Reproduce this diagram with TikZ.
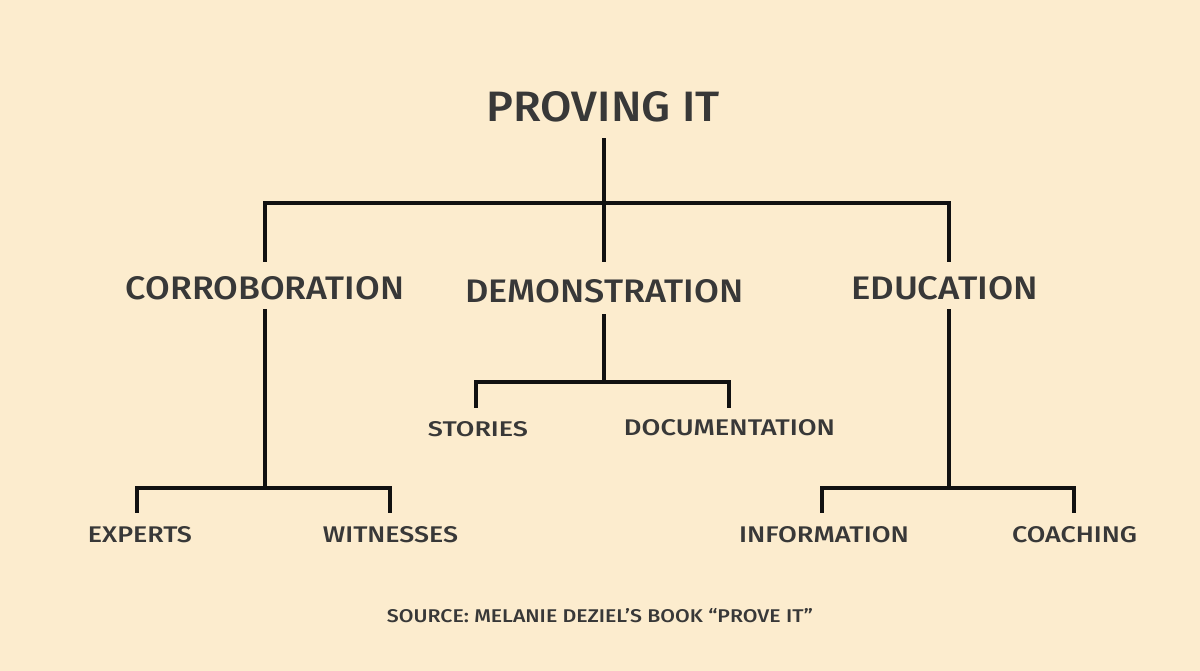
\documentclass[tikz,border=0pt]{standalone}
\usepackage{fontspec}
\usepackage{graphicx}
\setmainfont{Fira Sans}[UprightFont=* Medium]
\definecolor{bgcream}{HTML}{FCECCE}
\definecolor{inkgray}{HTML}{383838}
\definecolor{linedark}{HTML}{111111}
\newcommand{\fitt}[3]{\resizebox{#1pt}{#2pt}{#3}}
\tikzset{
  lbl/.style={inner sep=0pt, outer sep=0pt, text=inkgray},
  conn/.style={draw=linedark, line width=3.2pt, line cap=butt, line join=miter}
}
\begin{document}
\begin{tikzpicture}[x=1pt,y=1pt]
\fill[bgcream] (0,0) rectangle (1200,671);
\useasboundingbox (0,0) rectangle (1200,671);
% nodes
\node[lbl] (title) at (603,564) {\fitt{233}{30}{PROVING IT}};
\node[lbl] (corr) at (265,382.5) {\fitt{278}{23}{CORROBORATION}};
\node[lbl] (demo) at (604.5,379.5) {\fitt{278}{23}{DEMONSTRATION}};
\node[lbl] (edu) at (944.5,382.5) {\fitt{187}{23}{EDUCATION}};
\node[lbl] (experts) at (140,136) {\fitt{104}{16}{EXPERTS}};
\node[lbl] (witnesses) at (390.5,136) {\fitt{135}{16}{WITNESSES}};
\node[lbl] (stories) at (478,241.5) {\fitt{100}{15}{STORIES}};
\node[lbl] (documentation) at (729.5,243) {\fitt{211}{16}{DOCUMENTATION}};
\node[lbl] (information) at (824,136) {\fitt{170}{16}{INFORMATION}};
\node[lbl] (coaching) at (1074.5,136) {\fitt{125}{16}{COACHING}};
\node[lbl] (source) at (600,55) {\fitt{426}{14}{SOURCE: MELANIE DEZIEL’S BOOK “PROVE IT”}};
% junctions
\coordinate (j0) at (604,468);
\coordinate (j1) at (265,183);
\coordinate (j2) at (604,289);
\coordinate (j3) at (949,183);
% connectors
\draw[conn] ([xshift=1pt,yshift=-16pt]title.south) -- (j0);
\draw[conn] ([yshift=15pt]corr.north) |- (j0);
\draw[conn] (j0) -| ([xshift=4.5pt,yshift=15pt]edu.north);
\draw[conn] (j0) -- ([xshift=-0.5pt,yshift=18pt]demo.north);
\draw[conn] ([yshift=-9pt]corr.south) -- (j1);
\draw[conn] ([xshift=-3pt,yshift=14pt]experts.north) |- (j1);
\draw[conn] (j1) -| ([xshift=-0.5pt,yshift=14pt]witnesses.north);
\draw[conn] ([xshift=-0.5pt,yshift=-11pt]demo.south) -- (j2);
\draw[conn] ([xshift=-2pt,yshift=14pt]stories.north) |- (j2);
\draw[conn] (j2) -| ([xshift=-0.5pt,yshift=12pt]documentation.north);
\draw[conn] ([xshift=4.5pt,yshift=-9pt]edu.south) -- (j3);
\draw[conn] ([xshift=-2pt,yshift=14pt]information.north) |- (j3);
\draw[conn] (j3) -| ([xshift=-0.5pt,yshift=14pt]coaching.north);
\end{tikzpicture}
\end{document}
